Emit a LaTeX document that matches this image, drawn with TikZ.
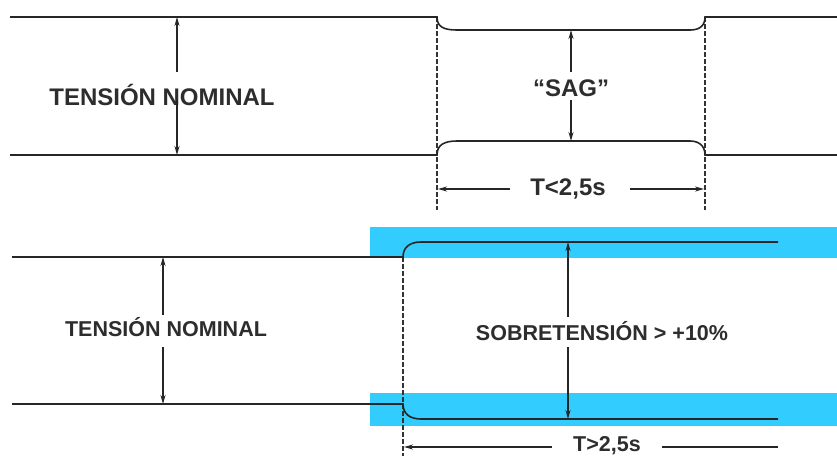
\documentclass[tikz,border=0pt]{standalone}
\usepackage{fontspec}
\setmainfont{Liberation Sans}
\usetikzlibrary{arrows.meta}
\definecolor{bandblue}{RGB}{51,204,255}
\definecolor{txtgray}{RGB}{45,45,45}
\begin{document}
\begin{tikzpicture}[x=1pt,y=-1pt,
  wave/.style={line width=1.6pt,black!85},
  dimarrow/.style={line width=1.3pt,black!85,-{Stealth[length=9pt,width=5pt]}},
  dimline/.style={line width=1.3pt,black!85},
  guide/.style={line width=1.5pt,black!80,dash pattern=on 4.5pt off 2.5pt},
  lbltop/.style={font=\bfseries\fontsize{24}{27}\selectfont,text=txtgray,inner sep=0pt},
  lblbot/.style={font=\bfseries\fontsize{21.5}{24}\selectfont,text=txtgray,inner sep=0pt}]
\useasboundingbox (0,0) rectangle (837,456);
\fill[white] (0,0) rectangle (837,456);

% ---------------- top diagram (SAG) ----------------
\coordinate (tl0) at (10,17);   \coordinate (tl1) at (437,17);
\coordinate (tl2) at (457,30);  \coordinate (tl3) at (690,30);
\coordinate (tl4) at (705,17);  \coordinate (tl5) at (837,17);
\coordinate (bl0) at (10,155);  \coordinate (bl1) at (437,155);
\coordinate (bl2) at (457,141); \coordinate (bl3) at (690,141);
\coordinate (bl4) at (705,155); \coordinate (bl5) at (837,155);

\draw[guide] (tl1) -- (437,210) coordinate (g1end);
\draw[guide] (tl4) -- (705,210) coordinate (g2end);

\draw[wave] (tl0) -- (tl1) .. controls (437,27) and (444,30) .. (tl2) -- (tl3)
  .. controls (698,30) and (705,27) .. (tl4) -- (tl5);
\draw[wave] (bl0) -- (bl1) .. controls (437,145) and (444,141) .. (bl2) -- (bl3)
  .. controls (698,141) and (705,145) .. (bl4) -- (bl5);

\node[lbltop] (tn1) at (162,95) {TENSIÓN NOMINAL};
\coordinate (a1u) at (177,72); \coordinate (a1t) at (177,17);
\coordinate (a1l) at (177,100); \coordinate (a1b) at (177,155);
\draw[dimarrow] (a1u) -- (a1t);
\draw[dimarrow] (a1l) -- (a1b);

\node[lbltop] (sag) at (571,88) {“SAG”};
\coordinate (s1u) at (571,72); \coordinate (s1t) at (571,30);
\coordinate (s1l) at (571,100); \coordinate (s1b) at (571,141);
\draw[dimarrow] (s1u) -- (s1t);
\draw[dimarrow] (s1l) -- (s1b);

\node[lbltop] (tlt) at (568,189) {T<2,5s};
\coordinate (d1a) at (510,189); \coordinate (d1b) at (438,189);
\coordinate (d1c) at (630,189); \coordinate (d1d) at (704,189);
\draw[dimarrow] (d1a) -- (d1b);
\draw[dimarrow] (d1c) -- (d1d);

% ---------------- bottom diagram (overvoltage) ----------------
\fill[bandblue] (370,227) rectangle (837,258);
\fill[bandblue] (370,393) rectangle (837,426);

\coordinate (ut0) at (12,257);  \coordinate (ut1) at (403,257);
\coordinate (ut2) at (421,242); \coordinate (ut3) at (778,242);
\coordinate (ub0) at (12,404);  \coordinate (ub1) at (403,404);
\coordinate (ub2) at (421,419); \coordinate (ub3) at (778,419);

\draw[guide] (ut1) -- (403,456) coordinate (g3end);

\draw[wave] (ut0) -- (ut1) .. controls (403,247) and (410,242) .. (ut2) -- (ut3);
\draw[wave] (ub0) -- (ub1) .. controls (403,414) and (410,419) .. (ub2) -- (ub3);

\node[lblbot] (tn2) at (166,327) {TENSIÓN NOMINAL};
\coordinate (a2u) at (163,315); \coordinate (a2t) at (163,257);
\coordinate (a2l) at (163,347); \coordinate (a2b) at (163,404);
\draw[dimarrow] (a2u) -- (a2t);
\draw[dimarrow] (a2l) -- (a2b);

\node[lblbot] (sobre) at (602,331) {SOBRETENSIÓN > +10\%};
\coordinate (o1u) at (568,317); \coordinate (o1t) at (568,242);
\coordinate (o1l) at (568,347); \coordinate (o1b) at (568,419);
\draw[dimarrow] (o1u) -- (o1t);
\draw[dimarrow] (o1l) -- (o1b);

\node[lblbot] (tgt) at (607,446) {T>2,5s};
\coordinate (d2a) at (552,447); \coordinate (d2b) at (404,447);
\coordinate (d2c) at (662,447); \coordinate (d2d) at (778,447);
\draw[dimarrow] (d2a) -- (d2b);
\draw[dimline] (d2c) -- (d2d);
\end{tikzpicture}
\end{document}
